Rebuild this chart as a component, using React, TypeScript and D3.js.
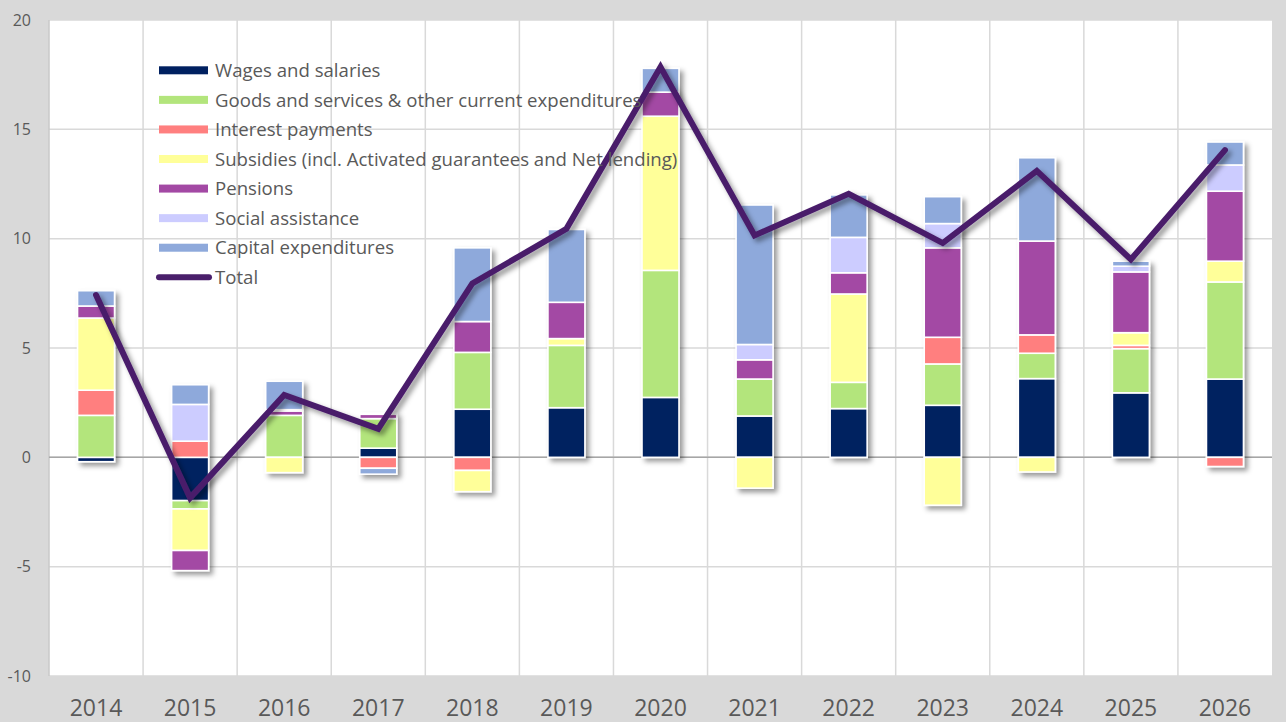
import * as d3 from 'd3';
import React, { useRef, useEffect } from 'react';

const years = ['2014', '2015', '2016', '2017', '2018', '2019', '2020', '2021', '2022', '2023', '2024', '2025', '2026'];
const wages = [-0.2, -1.98, 0, 0.42, 2.2, 2.27, 2.74, 1.89, 2.23, 2.38, 3.6, 2.95, 3.58];
const goods = [1.92, -0.38, 1.92, 1.35, 2.6, 2.85, 5.81, 1.69, 1.2, 1.89, 1.16, 2.02, 4.44];
const interest = [1.15, 0.74, 0, -0.5, -0.6, 0, 0, 0, 0, 1.22, 0.84, 0.15, -0.42];
const subsidies = [3.3, -1.9, -0.7, 0, -0.97, 0.31, 7.05, -1.41, 4.04, -2.19, -0.67, 0.58, 0.95];
const pensions = [0.55, -0.92, 0.2, 0.2, 1.41, 1.66, 1.1, 0.88, 0.97, 4.09, 4.29, 2.78, 3.2];
const social = [0, 1.68, 0.06, 0.05, 0, 0, 0, 0.7, 1.62, 1.11, 0, 0.26, 1.2];
const capital = [0.7, 0.9, 1.3, -0.27, 3.37, 3.33, 1.09, 6.38, 1.94, 1.23, 3.81, 0.23, 1.05];
const total = [7.42, -1.85, 2.85, 1.3, 7.95, 10.45, 17.85, 10.15, 12.05, 9.8, 13.1, 9.05, 14.05];

const seriesNames = [
    'Wages and salaries',
    'Goods and services & other current expenditures',
    'Interest payments',
    'Subsidies (incl. Activated guarantees and Net lending)',
    'Pensions',
    'Social assistance',
    'Capital expenditures',
];
const seriesColors = ['#002060', '#B3E57C', '#FF7F7F', '#FFFF99', '#A349A4', '#CCCCFF', '#8EA9DB'];
const totalName = 'Total';
const totalColor = '#4A1F6B';
const yTicks = [-10, -5, 0, 5, 10, 15, 20];

function App() {
    const ref = useRef(null);
    const width = 1286;
    const height = 722;

    useEffect(() => {
        draw();
    }, []);

    const draw = () => {
        const svg = d3.select(ref.current);
        svg.selectAll('*').remove();

        const left = 49, right = 1272, top = 20, bottom = 676;
        const font = "'Open Sans', sans-serif";

        const defs = svg.append('defs');
        defs.append('filter')
            .attr('id', 'shadow')
            .attr('x', '-30%').attr('y', '-30%').attr('width', '160%').attr('height', '160%')
            .append('feDropShadow')
            .attr('dx', 3.5).attr('dy', 3.5).attr('stdDeviation', 2.5)
            .attr('flood-color', '#000').attr('flood-opacity', 0.4);

        svg.append('rect').attr('width', width).attr('height', height).attr('fill', '#D9D9D9');
        svg.append('rect')
            .attr('x', left).attr('y', top)
            .attr('width', right - left).attr('height', bottom - top)
            .attr('fill', '#fff');

        const x = d3.scaleBand().domain(years).range([left, right]).padding(0);
        const y = d3.scaleLinear().domain([-10, 20]).range([bottom, top]);

        // gridlines
        svg.append('g').selectAll('line').data(yTicks).enter().append('line')
            .attr('x1', left).attr('x2', right)
            .attr('y1', d => y(d)).attr('y2', d => y(d))
            .attr('stroke', '#D9D9D9').attr('stroke-width', 1.5);
        svg.append('g').selectAll('line').data(years).enter().append('line')
            .attr('x1', d => x(d)).attr('x2', d => x(d))
            .attr('y1', top).attr('y2', bottom)
            .attr('stroke', d => d === years[0] ? '#C8C8C8' : '#D9D9D9').attr('stroke-width', 1.5);
        svg.append('line')
            .attr('x1', left).attr('x2', right)
            .attr('y1', y(0)).attr('y2', y(0))
            .attr('stroke', '#A6A6A6').attr('stroke-width', 1.5);

        // axis labels
        svg.append('g').selectAll('text').data(yTicks).enter().append('text')
            .attr('x', 31).attr('y', d => y(d))
            .attr('dy', '0.35em')
            .attr('text-anchor', 'end')
            .attr('font-family', font).attr('font-size', 16)
            .attr('fill', '#595959')
            .text(d => d);
        svg.append('g').selectAll('text').data(years).enter().append('text')
            .attr('x', d => x(d) + x.bandwidth() / 2).attr('y', 716)
            .attr('text-anchor', 'middle')
            .attr('font-family', font).attr('font-size', 23)
            .attr('fill', '#595959')
            .text(d => d);

        // stacked bars (positive up from zero, negative down from zero)
        const series = [wages, goods, interest, subsidies, pensions, social, capital];
        const barWidth = 37;
        const segs = [];
        years.forEach((yr, i) => {
            let pos = 0, neg = 0;
            series.forEach((s, k) => {
                const v = s[i];
                if (!v) return;
                let y0, y1;
                if (v > 0) { y0 = pos; y1 = pos + v; pos = y1; }
                else { y0 = neg; y1 = neg + v; neg = y1; }
                segs.push({ yr, k, y0, y1 });
            });
        });

        const bars = svg.append('g').attr('filter', 'url(#shadow)');
        bars.selectAll('rect').data(segs).enter().append('rect')
            .attr('x', d => x(d.yr) + x.bandwidth() / 2 - barWidth / 2)
            .attr('y', d => y(Math.max(d.y0, d.y1)))
            .attr('width', barWidth)
            .attr('height', d => Math.abs(y(d.y0) - y(d.y1)))
            .attr('fill', d => seriesColors[d.k])
            .attr('stroke', '#fff')
            .attr('stroke-width', 1.6);

        // total line
        const line = d3.line()
            .x((d, i) => x(years[i]) + x.bandwidth() / 2)
            .y(d => y(d));
        svg.append('path')
            .datum(total)
            .attr('d', line)
            .attr('fill', 'none')
            .attr('stroke', totalColor)
            .attr('stroke-width', 6)
            .attr('stroke-linejoin', 'miter')
            .attr('stroke-linecap', 'round')
            .attr('filter', 'url(#shadow)');

        // legend
        const rowY = (i) => 70.3 + i * 29.57;
        const legend = svg.append('g');
        legend.selectAll('rect').data(seriesNames).enter().append('rect')
            .attr('x', 159).attr('y', (d, i) => rowY(i) - 4)
            .attr('width', 49).attr('height', 8)
            .attr('fill', (d, i) => seriesColors[i]);
        legend.append('line')
            .attr('x1', 159).attr('x2', 209)
            .attr('y1', rowY(7)).attr('y2', rowY(7))
            .attr('stroke', totalColor).attr('stroke-width', 6)
            .attr('stroke-linecap', 'round');
        legend.selectAll('text').data([...seriesNames, totalName]).enter().append('text')
            .attr('x', 215).attr('y', (d, i) => rowY(i))
            .attr('dy', '0.36em')
            .attr('font-family', font).attr('font-size', 18.6)
            .attr('fill', '#595959')
            .text(d => d);
    };

    return (
        <svg ref={ref} width={width} height={height}
            style={{ position: 'absolute', left: 0, top: 0, display: 'block' }}>
        </svg>
    );
}

export default App;
